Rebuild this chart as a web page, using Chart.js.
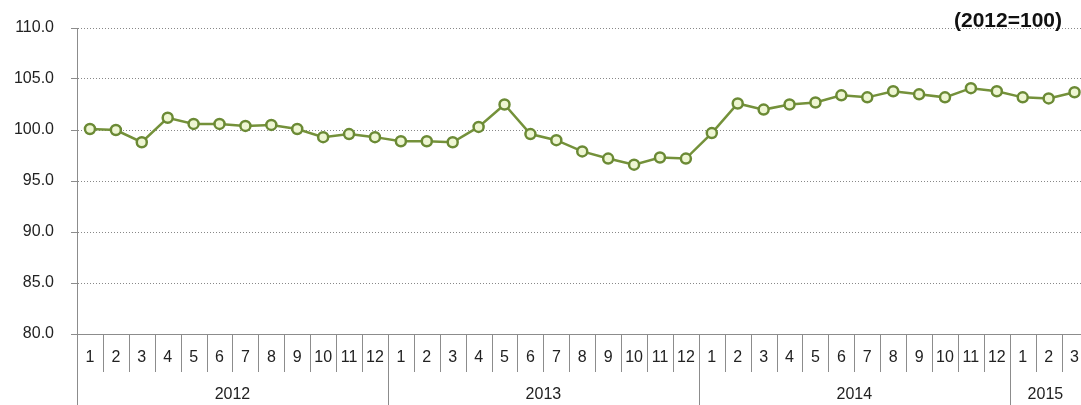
<!DOCTYPE html>
<html>
<head>
<meta charset="utf-8">
<script src="https://cdn.jsdelivr.net/npm/chart.js@4.4.1/dist/chart.umd.min.js"></script>
<style>
  html, body { margin: 0; padding: 0; background: #fff; overflow: hidden; }
  #wrap { width: 1095px; height: 405px; }
</style>
</head>
<body>
<div id="wrap"><canvas id="chart" width="1095" height="405"></canvas></div>
<script>
// month labels per year
const years = ['2012', '2013', '2014', '2015'];
const monthsPerYear = [12, 12, 12, 3];

// index values (2012=100)
const values2012 = [100.1, 100.0, 98.8, 101.2, 100.6, 100.6, 100.4, 100.5, 100.1, 99.3, 99.6, 99.3];
const values2013 = [98.9, 98.9, 98.8, 100.3, 102.5, 99.6, 99.0, 97.9, 97.2, 96.6, 97.3, 97.2];
const values2014 = [99.7, 102.6, 102.0, 102.5, 102.7, 103.4, 103.2, 103.8, 103.5, 103.2, 104.1, 103.8];
const values2015 = [103.2, 103.1, 103.7];

const yTicks = [80, 85, 90, 95, 100, 105, 110];
const baseNote = '(2012=100)';

const monthLabels = [];
monthsPerYear.forEach((n) => {
    for (let m = 1; m <= n; m++) monthLabels.push(String(m));
});
const allValues = [...values2012, ...values2013, ...values2014, ...values2015];

const FONT = 'Liberation Sans, Arial, sans-serif';
const AXIS_COLOR = '#8c8c8c';

// draws the month/year table under the axis and the base note
const tablePlugin = {
    id: 'tableAxis',
    afterDraw(chart) {
        const ctx = chart.ctx;
        const x = chart.scales.x;
        const area = chart.chartArea;
        const bottom = chart.height;
        const monthSepEnd = area.bottom + 38;

        const boundary = (i) => {
            if (i <= 0) return area.left;
            if (i >= monthLabels.length) return area.right;
            return (x.getPixelForValue(i - 1) + x.getPixelForValue(i)) / 2;
        };

        ctx.save();
        ctx.strokeStyle = AXIS_COLOR;
        ctx.lineWidth = 1;
        ctx.setLineDash([]);

        // x axis line
        ctx.beginPath();
        ctx.moveTo(area.left - 6, Math.round(area.bottom) + 0.5);
        ctx.lineTo(area.right, Math.round(area.bottom) + 0.5);
        ctx.stroke();

        // month separators
        for (let i = 1; i < monthLabels.length; i++) {
            const px = Math.round(boundary(i)) + 0.5;
            ctx.beginPath();
            ctx.moveTo(px, area.bottom);
            ctx.lineTo(px, monthSepEnd);
            ctx.stroke();
        }

        // year separators + labels
        let start = 0;
        ctx.fillStyle = '#222';
        ctx.font = '16px ' + FONT;
        ctx.textAlign = 'center';
        ctx.textBaseline = 'middle';
        years.forEach((yr, k) => {
            const end = start + monthsPerYear[k];
            const x0 = boundary(start);
            const x1 = boundary(end);
            const px = Math.round(x0) + 0.5;
            ctx.beginPath();
            ctx.moveTo(px, area.bottom);
            ctx.lineTo(px, bottom);
            ctx.stroke();
            const visRight = Math.min(x1, 1081);
            ctx.fillText(yr, (x0 + visRight) / 2, 395);
            start = end;
        });

        // base note
        ctx.font = 'bold 21px ' + FONT;
        ctx.textAlign = 'right';
        ctx.fillStyle = '#111';
        ctx.fillText(baseNote, 1062, 21);
        ctx.restore();
    },
};

new Chart(document.getElementById('chart'), {
    type: 'line',
    data: {
        labels: monthLabels,
        datasets: [
            {
                data: allValues,
                borderColor: '#74913a',
                borderWidth: 2.5,
                backgroundColor: '#eef6d2',
                pointBackgroundColor: '#eef6d2',
                pointBorderColor: '#6b8a35',
                pointBorderWidth: 2.5,
                pointRadius: 5,
                tension: 0,
            },
        ],
    },
    options: {
        responsive: false,
        animation: false,
        devicePixelRatio: 1,
        layout: { padding: { top: 28, right: 4, left: 0, bottom: 0 } },
        plugins: {
            legend: { display: false },
            tooltip: { enabled: false },
        },
        scales: {
            x: {
                type: 'category',
                offset: true,
                grid: { display: false, drawTicks: false },
                border: { display: false },
                ticks: {
                    autoSkip: false,
                    maxRotation: 0,
                    padding: 14,
                    color: '#222',
                    font: { family: FONT, size: 16 },
                },
                afterFit(scale) {
                    scale.height = 71;
                },
            },
            y: {
                min: 80,
                max: 110,
                afterBuildTicks(scale) {
                    scale.ticks = yTicks.map((v) => ({ value: v }));
                },
                grid: {
                    color: '#888888',
                    tickBorderDash: [0, 0],
                    tickColor: AXIS_COLOR,
                    tickLength: 6,
                },
                border: { display: true, color: AXIS_COLOR, width: 1, dash: [1, 2] },
                ticks: {
                    padding: 17,
                    color: '#222',
                    font: { family: FONT, size: 16 },
                    callback: (v) => Number(v).toFixed(1),
                },
                afterFit(scale) {
                    scale.width = 77;
                },
            },
        },
    },
    plugins: [tablePlugin],
});
</script>
</body>
</html>
